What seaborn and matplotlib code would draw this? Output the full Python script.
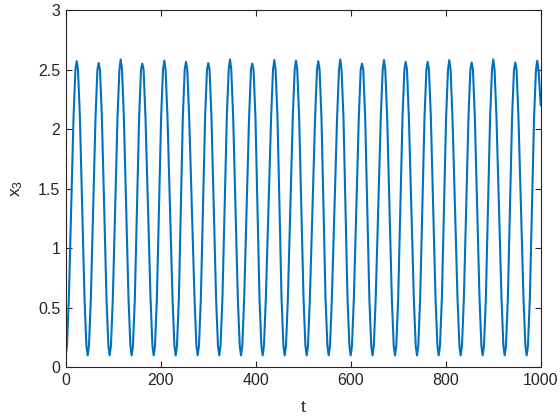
import matplotlib
matplotlib.use("Agg")
import matplotlib.pyplot as plt
import seaborn as sns
import pandas as pd

# points (t, x3)
start_t = [0, 2.7, 6.7]
start_x = [0.10, 0.18, 0.58]

peak_t = [23.2, 69.5, 115.8, 161.3, 207.6, 253.3, 300.2, 345.9, 392.8, 439.2, 484.8,
          531.8, 578.1, 623.8, 670.1, 715.8, 762.1, 807.6, 854.7, 900.2, 946.5, 992.8]
peak_x = [2.57, 2.555, 2.585, 2.55, 2.575, 2.565, 2.555, 2.585, 2.55, 2.58, 2.575,
          2.57, 2.585, 2.55, 2.58, 2.565, 2.565, 2.58, 2.56, 2.585, 2.56, 2.575]
trough_t = [46.3, 92.6, 138.9, 185.3, 231.6, 277.9, 323.3, 369.1, 414.7, 461.1, 507.4,
            553.7, 600.0, 646.0, 693.3, 739.6, 785.3, 831.6, 877.9, 924.2, 970.5]

# where the curve crosses x3 = 2.1 and 2.5 around each peak
up21_t = [16.5, 62.8, 109.1, 154.6, 200.9, 246.6, 293.5, 339.2, 386.1, 432.5, 478.1,
          525.1, 571.4, 617.1, 663.4, 709.1, 755.4, 800.9, 848.0, 893.5, 939.8, 986.1]
up25_t = [20.5, 66.8, 113.1, 158.6, 204.9, 250.6, 297.5, 343.2, 390.1, 436.5, 482.1,
          529.1, 575.4, 621.1, 667.4, 713.1, 759.4, 804.9, 852.0, 897.5, 943.8, 990.1]
dn25_t = [25.9, 72.2, 118.5, 164.0, 210.3, 256.0, 302.9, 348.6, 395.5, 441.9, 487.5,
          534.5, 580.8, 626.5, 672.8, 718.5, 764.8, 810.3, 857.4, 902.9, 949.2, 995.5]
dn21_t = [29.9, 76.2, 122.5, 168.0, 214.3, 260.0, 306.9, 352.6, 399.5, 445.9, 491.5,
          538.5, 584.8, 630.5, 676.8, 722.5, 768.8, 814.3, 861.4, 906.9, 953.2]

# where the curve crosses x3 = 0.58 and 0.18 around each trough
dn058_t = [39.6, 85.9, 132.2, 178.6, 224.9, 271.2, 316.6, 362.4, 408.0, 454.4, 500.7,
           547.0, 593.3, 639.3, 686.6, 732.9, 778.6, 824.9, 871.2, 917.5, 963.8]
dn018_t = [43.6, 89.9, 136.2, 182.6, 228.9, 275.2, 320.6, 366.4, 412.0, 458.4, 504.7,
           551.0, 597.3, 643.3, 690.6, 736.9, 782.6, 828.9, 875.2, 921.5, 967.8]
up018_t = [49.0, 95.3, 141.6, 188.0, 234.3, 280.6, 326.0, 371.8, 417.4, 463.8, 510.1,
           556.4, 602.7, 648.7, 696.0, 742.3, 788.0, 834.3, 880.6, 926.9, 973.2]
up058_t = [53.0, 99.3, 145.6, 192.0, 238.3, 284.6, 330.0, 375.8, 421.4, 467.8, 514.1,
           560.4, 606.7, 652.7, 700.0, 746.3, 792.0, 838.3, 884.6, 930.9, 977.2]

# mid-level (x3 = 1.34) crossings
mid_t = [11.6, 34.8, 57.9, 81.1, 104.2, 127.4, 150.1, 173.3, 196.5, 219.6, 242.5,
         265.6, 289.1, 311.8, 334.6, 357.5, 381.0, 403.8, 427.0, 450.2, 473.0, 496.1,
         519.6, 542.8, 565.9, 589.1, 611.9, 634.9, 658.1, 681.7, 704.6, 727.7, 750.9,
         773.7, 796.5, 819.6, 843.2, 866.3, 889.1, 912.2, 935.4, 958.4, 981.7]

end_t = [1000]
end_x = [2.2]

t_all = (start_t + peak_t + trough_t + up21_t + up25_t + dn25_t + dn21_t
         + dn058_t + dn018_t + up018_t + up058_t + mid_t + end_t)
x_all = (start_x + peak_x + [0.10] * len(trough_t)
         + [2.1] * len(up21_t) + [2.5] * len(up25_t)
         + [2.5] * len(dn25_t) + [2.1] * len(dn21_t)
         + [0.58] * len(dn058_t) + [0.18] * len(dn018_t)
         + [0.18] * len(up018_t) + [0.58] * len(up058_t)
         + [1.34] * len(mid_t) + end_x)

df = pd.DataFrame({"t": t_all, "x3": x_all}).sort_values("t")

sns.set_style("white")
plt.rcParams["font.family"] = ["Liberation Sans", "DejaVu Sans"]
plt.rcParams["mathtext.default"] = "regular"

fig = plt.figure(figsize=(5.6, 4.2), dpi=100)
ax = fig.add_axes([0.1173, 0.1255, 0.8482, 0.8507])

sns.lineplot(data=df, x="t", y="x3", ax=ax, color="#0072BD", linewidth=1.5, sort=False)

ax.set_xlim(0, 1000)
ax.set_ylim(0, 3)
ax.set_xticks([0, 200, 400, 600, 800, 1000])
ax.set_yticks([0, 0.5, 1, 1.5, 2, 2.5, 3])
ax.set_yticklabels(["0", "0.5", "1", "1.5", "2", "2.5", "3"])
ax.set_xlabel("t", fontsize=12.5, labelpad=9)
ax.set_ylabel("x$_3$", fontsize=12.5, labelpad=9)

for s in ax.spines.values():
    s.set_visible(True)
    s.set_color("#262626")
    s.set_linewidth(0.8)
ax.tick_params(direction="in", length=4.5, width=0.8, color="#262626",
               labelsize=11.5, labelcolor="#262626", top=True, right=True,
               bottom=True, left=True, pad=4)

fig.savefig("out.png", dpi=100)
